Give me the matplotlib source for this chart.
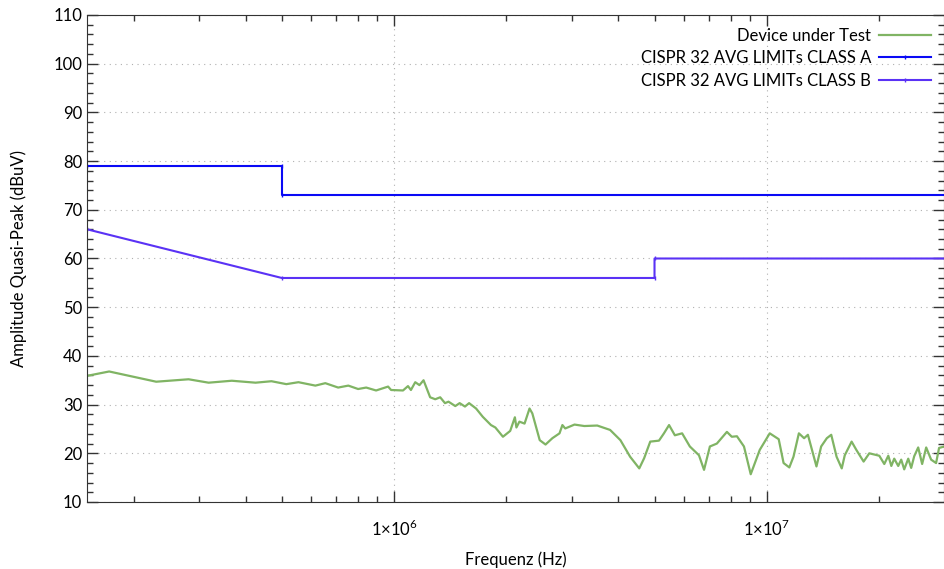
import matplotlib.pyplot as plt
from matplotlib.ticker import FixedLocator, MultipleLocator, LogLocator, NullFormatter

plt.rcParams['font.family'] = ['Lato', 'DejaVu Sans']
plt.rcParams['mathtext.fontset'] = 'custom'
plt.rcParams['mathtext.rm'] = 'Lato'

# measured spectrum (Hz, dBuV)
dut_freq = [1.50e5, 1.72e5, 2.30e5, 2.81e5, 3.18e5, 3.67e5, 4.25e5, 4.69e5, 5.14e5, 5.54e5,
            6.15e5, 6.54e5, 7.08e5, 7.54e5, 8.01e5, 8.42e5, 8.95e5, 9.64e5, 9.82e5, 1.057e6,
            1.09e6, 1.11e6, 1.14e6, 1.17e6, 1.20e6, 1.25e6, 1.29e6, 1.33e6, 1.37e6, 1.40e6,
            1.46e6, 1.50e6, 1.55e6, 1.59e6, 1.66e6, 1.73e6, 1.82e6, 1.87e6, 1.96e6, 2.05e6,
            2.11e6, 2.13e6, 2.17e6, 2.24e6, 2.31e6, 2.35e6, 2.46e6, 2.55e6, 2.66e6, 2.78e6,
            2.83e6, 2.88e6, 3.05e6, 3.24e6, 3.51e6, 3.80e6, 4.05e6, 4.30e6, 4.55e6, 4.69e6,
            4.87e6, 5.14e6, 5.30e6, 5.47e6, 5.67e6, 5.93e6, 6.22e6, 6.58e6, 6.79e6, 7.04e6,
            7.35e6, 7.82e6, 8.06e6, 8.32e6, 8.69e6, 9.06e6, 9.58e6, 1.019e7, 1.077e7, 1.11e7,
            1.15e7, 1.18e7, 1.22e7, 1.26e7, 1.29e7, 1.36e7, 1.40e7, 1.45e7, 1.49e7, 1.54e7,
            1.59e7, 1.62e7, 1.69e7, 1.74e7, 1.82e7, 1.885e7, 2.005e7, 2.068e7, 2.120e7, 2.160e7,
            2.199e7, 2.254e7, 2.296e7, 2.339e7, 2.398e7, 2.442e7, 2.488e7, 2.550e7, 2.613e7,
            2.679e7, 2.762e7, 2.848e7, 2.901e7, 3.0e7]
dut_level = [35.9, 36.8, 34.7, 35.2, 34.5, 34.9, 34.5, 34.8, 34.2, 34.6,
             33.9, 34.4, 33.5, 33.9, 33.2, 33.5, 32.9, 33.7, 33.0, 32.9,
             33.8, 33.0, 34.6, 34.0, 35.0, 31.5, 31.1, 31.5, 30.3, 30.6,
             29.7, 30.3, 29.6, 30.3, 29.2, 27.5, 25.8, 25.3, 23.4, 24.6,
             27.4, 25.3, 26.5, 26.1, 29.2, 28.2, 22.7, 21.8, 23.1, 24.1,
             25.8, 25.1, 25.9, 25.6, 25.7, 24.8, 22.7, 19.3, 16.9, 19.0,
             22.4, 22.6, 24.1, 25.8, 23.7, 24.1, 21.4, 19.6, 16.6, 21.4,
             22.0, 24.4, 23.4, 23.5, 21.4, 15.7, 20.7, 24.1, 22.9, 18.0,
             17.1, 19.3, 24.1, 23.1, 23.8, 17.3, 21.4, 23.1, 23.8, 19.3,
             16.9, 19.6, 22.4, 20.7, 18.3, 20.0, 19.5, 17.8, 19.5, 17.4,
             18.9, 17.4, 18.7, 16.7, 18.9, 17.0, 19.4, 21.2, 17.8,
             21.2, 18.7, 18.0, 21.1, 21.4]

# CISPR 32 limits
class_a_freq = [1.5e5, 5e5, 5e5, 3e7]
class_a_level = [79, 79, 73, 73]
class_b_freq = [1.5e5, 5e5, 5e6, 5e6, 3e7]
class_b_level = [66, 56, 56, 60, 60]

fig = plt.figure(figsize=(9.45, 5.69), dpi=100)
ax = fig.add_axes([87 / 945, 1 - 502 / 569, 857.5 / 945, 487 / 569])

ax.plot(dut_freq, dut_level, color='#80b464', lw=1.6, label='Device under Test')
ax.plot(class_a_freq, class_a_level, color='#0a0af5', lw=1.5, marker='|', ms=3,
        label='CISPR 32 AVG LIMITs CLASS A')
ax.plot(class_b_freq, class_b_level, color='#5a32f5', lw=1.5, marker='|', ms=3,
        label='CISPR 32 AVG LIMITs CLASS B')

ax.set_xscale('log')
ax.set_xlim(1.5e5, 3e7)
ax.set_ylim(10, 110)
ax.xaxis.set_major_locator(FixedLocator([1e6, 1e7]))
ax.set_xticklabels([r'$1{\times}10^{6}$', r'$1{\times}10^{7}$'])
ax.xaxis.set_minor_locator(LogLocator(base=10, subs=range(2, 10)))
ax.xaxis.set_minor_formatter(NullFormatter())
ax.yaxis.set_major_locator(MultipleLocator(10))
ax.yaxis.set_minor_locator(MultipleLocator(2))

ax.tick_params(which='both', direction='in', top=True, right=True, labelsize=12,
               color='#333333')
ax.tick_params(which='major', length=8, width=1)
ax.tick_params(which='minor', length=4, width=1)
ax.tick_params(axis='x', pad=12)
for s in ax.spines.values():
    s.set_color('#333333')
ax.grid(True, which='major', ls=(0, (1, 4)), color='#b0b0b0', lw=0.8)

ax.set_xlabel('Frequenz (Hz)', fontsize=12, labelpad=9)
ax.set_ylabel('Amplitude Quasi-Peak (dBuV)', fontsize=12, labelpad=19)

ax.legend(loc='upper right', frameon=False, markerfirst=False, numpoints=1,
          fontsize=12, handlelength=3.1, handletextpad=0.5, labelspacing=0.4,
          borderaxespad=0.3, bbox_to_anchor=(0.998, 0.998))
for t in ax.get_legend().get_texts():
    t.set_ha('right')

fig.savefig('out.png', dpi=100)
